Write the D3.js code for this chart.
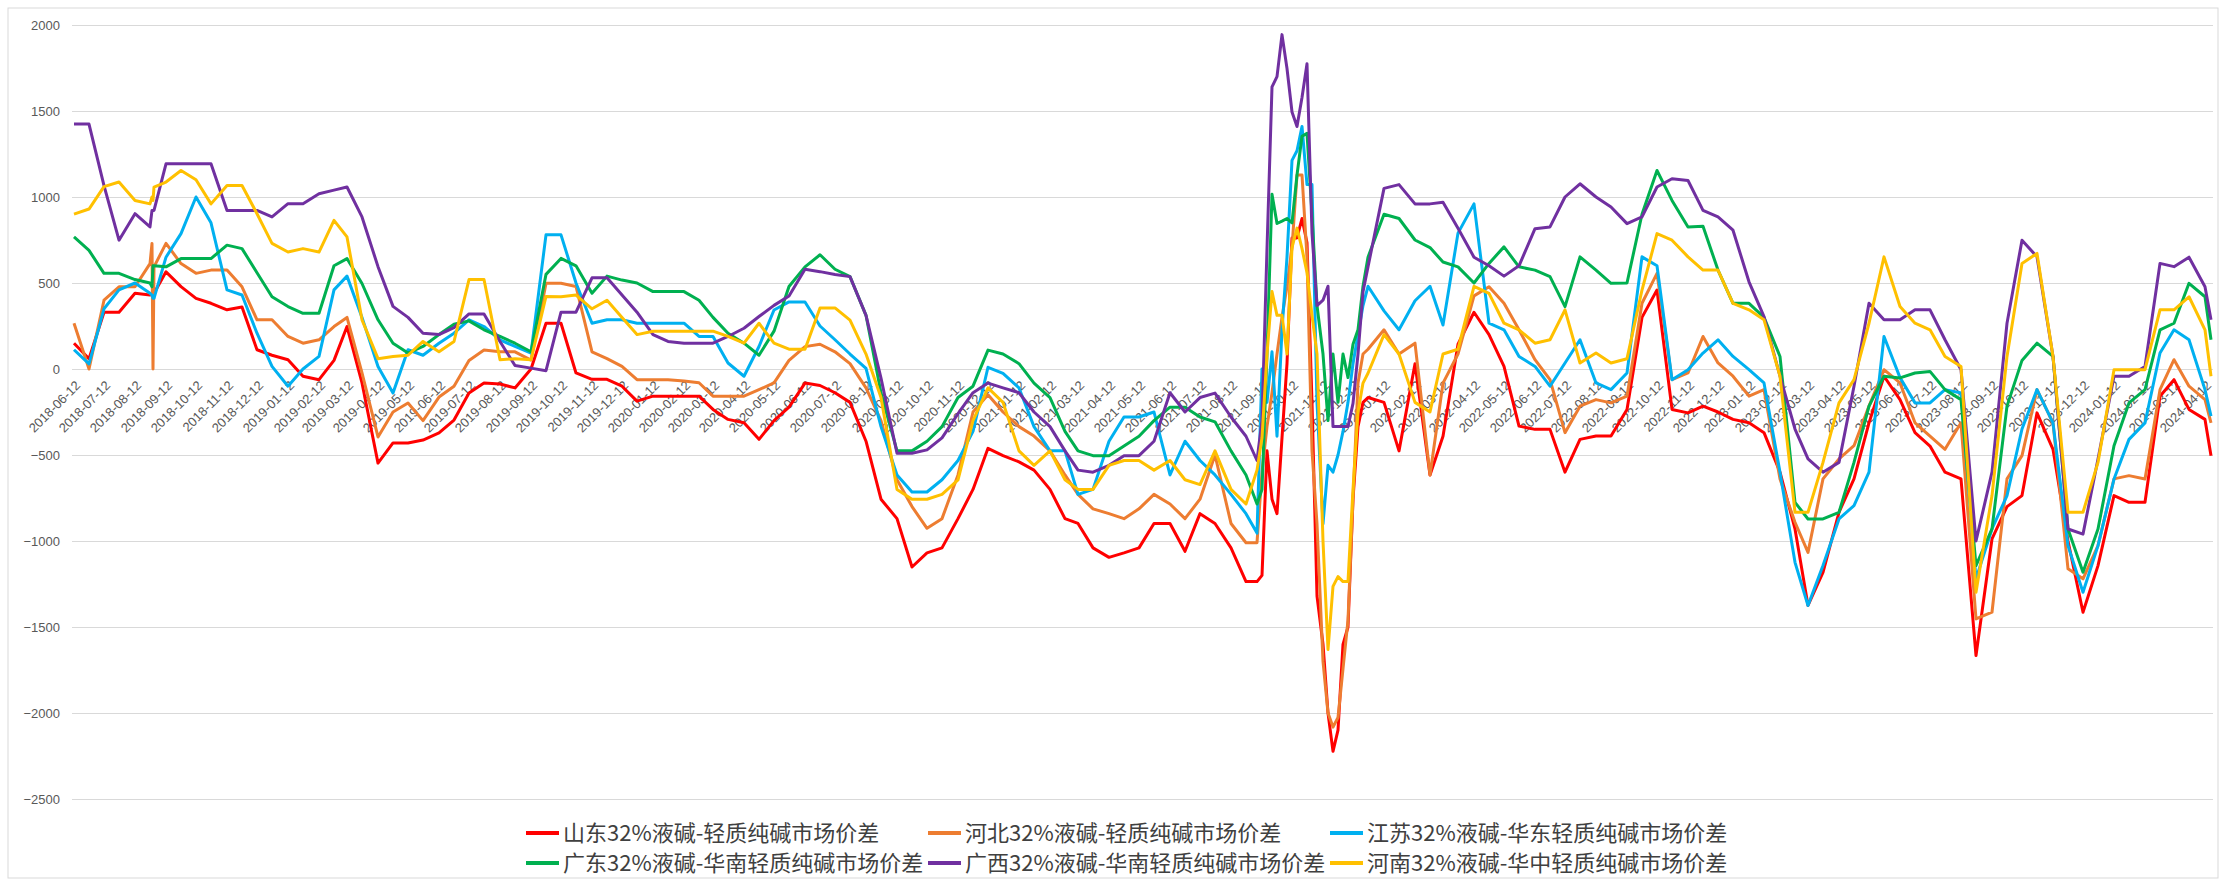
<!DOCTYPE html>
<html>
<head>
<meta charset="utf-8">
<script src="https://cdn.jsdelivr.net/npm/d3@7"></script>
<style>
  body { margin: 0; background: #fff; }
  svg text { font-family: "Liberation Sans", Arial, sans-serif; }
</style>
</head>
<body>
<div id="chart"></div>
<script>
// sample dates (12th and 27th of each month, denser around the 2021 autumn swings)
const dates = [
  "2018-06-12","2018-06-27","2018-07-12","2018-07-27","2018-08-12","2018-08-27","2018-08-29","2018-08-30","2018-08-31",
  "2018-09-12","2018-09-27","2018-10-12","2018-10-27","2018-11-12","2018-11-27","2018-12-12","2018-12-27",
  "2019-01-12","2019-01-27","2019-02-12","2019-02-27","2019-03-12","2019-03-27","2019-04-12","2019-04-27",
  "2019-05-12","2019-05-27","2019-06-12","2019-06-27","2019-07-12","2019-07-27","2019-08-12","2019-08-27",
  "2019-09-12","2019-09-27","2019-10-12","2019-10-27","2019-11-12","2019-11-27","2019-12-12","2019-12-27",
  "2020-01-12","2020-01-27","2020-02-12","2020-02-27","2020-03-12","2020-03-27","2020-04-12","2020-04-27",
  "2020-05-12","2020-05-27","2020-06-12","2020-06-27","2020-07-12","2020-07-27","2020-08-12","2020-08-27",
  "2020-09-12","2020-09-27","2020-10-12","2020-10-27","2020-11-12","2020-11-27","2020-12-12","2020-12-27",
  "2021-01-12","2021-01-27","2021-02-12","2021-02-27","2021-03-12","2021-03-27","2021-04-12","2021-04-27",
  "2021-05-12","2021-05-27","2021-06-12","2021-06-27","2021-07-12","2021-07-27","2021-08-12","2021-08-27",
  "2021-09-07","2021-09-12","2021-09-17","2021-09-22","2021-09-27","2021-10-02","2021-10-07","2021-10-12",
  "2021-10-17","2021-10-22","2021-10-27","2021-11-01","2021-11-06","2021-11-12","2021-11-17","2021-11-22",
  "2021-11-27","2021-12-02","2021-12-07","2021-12-12","2021-12-17","2021-12-22","2021-12-27",
  "2022-01-12","2022-01-27","2022-02-12","2022-02-27","2022-03-12","2022-03-27","2022-04-12","2022-04-27",
  "2022-05-12","2022-05-27","2022-06-12","2022-06-27","2022-07-12","2022-07-27","2022-08-12","2022-08-27",
  "2022-09-12","2022-09-27","2022-10-12","2022-10-27","2022-11-12","2022-11-27","2022-12-12","2022-12-27",
  "2023-01-12","2023-01-27","2023-02-12","2023-02-27","2023-03-12","2023-03-27","2023-04-12","2023-04-27",
  "2023-05-12","2023-05-27","2023-06-12","2023-06-27","2023-07-12","2023-07-27","2023-08-12","2023-08-27",
  "2023-09-12","2023-09-27","2023-10-12","2023-10-27","2023-11-12","2023-11-27","2023-12-12","2023-12-27",
  "2024-01-12","2024-01-27","2024-02-12","2024-02-27","2024-03-12","2024-03-27","2024-04-12","2024-04-18"
];

const shandong = [
  150,60,330,330,440,430,440,440,440,
  565,479,411,382,344,360,112,80,
  54,-42,-62,50,247,-81,-547,-430,-430,-413,-372,-297,-140,-81,-87,-110,0,266,266,-23,-60,-60,-100,-187,
  -158,-158,-158,-158,-235,-293,-313,-409,-300,
  -222,-82,-96,-138,-194,-420,-757,-870,-1151,-1069,-1040,-870,-700,-461,-504,
  -540,-588,-700,-870,-898,-1040,-1095,-1069,-1040,-898,-898,-1060,-841,-898,-1040,-1236,
  -1236,-1200,-476,-757,-841,-400,31,762,762,875,734,-194,-1320,-1600,-2000,-2223,-2100,-1601,-1500,-757,-335,-194,-166,
  -194,-476,31,-616,-391,144,330,200,15,-332,-351,-351,-600,-409,-390,-390,-235,300,459,-235,-255,-216,-250,-293,
  -313,-370,-600,-930,-1375,-1182,-833,-639,-313,-42,-178,-370,-448,-600,-639,-1666,-988,-800,-736,-255,-467,-1000,-1414,-1143,
  -736,-775,-775,-158,-62,-235,-293,-505
];
const hebei = [
  266,0,400,478,478,613,730,0,594,
  730,613,556,575,575,478,286,286,
  189,150,170,247,300,-23,-395,-250,-198,-300,-163,-100,50,110,100,100,52,498,498,480,100,60,15,-62,
  -62,-62,-70,-80,-158,-158,-158,-120,-81,
  50,130,144,100,31,-110,-300,-644,-800,-926,-870,-616,-250,-150,-250,
  -335,-390,-476,-616,-729,-813,-841,-870,-813,-729,-785,-870,-757,-500,-898,-1010,
  -1010,-600,-335,-138,87,300,481,706,1128,1128,650,-476,-900,-1700,-2000,-2082,-2026,-1744,-1460,-757,-82,87,115,
  228,87,150,-616,-82,87,425,478,382,228,54,-62,-370,-216,-178,-197,-158,382,556,-62,-23,189,35,-42,
  -158,-120,-639,-891,-1066,-639,-523,-446,-216,-4,-81,-313,-390,-467,-313,-1453,-1414,-639,-504,-120,-313,-1162,-1220,-1027,
  -639,-620,-639,-120,54,-100,-178,-313
];
const jiangsu = [
  112,30,350,460,500,440,430,411,411,
  650,787,1000,850,460,430,208,15,
  -100,0,73,460,540,300,15,-139,112,80,150,208,286,247,170,131,93,780,780,500,266,286,286,266,
  266,266,266,189,189,35,-42,131,343,
  390,390,250,170,87,3,-335,-616,-715,-715,-644,-532,-363,10,-25,
  -110,-335,-476,-476,-729,-700,-420,-279,-279,-250,-616,-420,-532,-616,-729,-841,
  -954,0,-194,100,-391,228,650,1213,1269,1410,1072,1072,-194,-900,-560,-600,-500,-363,-194,31,200,369,481,
  338,228,397,481,256,790,960,266,228,73,15,-100,35,170,-81,-120,-23,652,600,-62,-4,93,170,73,
  -4,-81,-600,-1124,-1375,-1143,-872,-794,-600,189,-50,-197,-197,-120,-139,-1220,-930,-736,-349,-120,-313,-1027,-1298,-1027,
  -640,-409,-313,93,228,170,-120,-274
];
const guangdong = [
  768,690,556,556,520,500,478,600,600,
  594,642,642,642,720,700,560,420,
  363,324,324,600,642,497,286,150,93,131,200,260,280,228,189,150,100,550,643,600,440,540,517,500,
  450,450,450,400,300,208,150,80,220,
  480,594,664,580,537,312,-138,-476,-476,-420,-335,-166,-100,110,87,
  31,-82,-166,-363,-476,-504,-504,-447,-391,-300,-222,-222,-279,-307,-476,-616,
  -785,-700,87,1016,846,860,875,850,1128,1353,1370,900,369,87,-300,87,-194,87,-50,144,228,481,650,
  900,875,750,706,622,594,500,614,710,594,575,537,363,652,575,498,500,900,1154,980,826,830,575,382,
  382,300,73,-775,-872,-872,-833,-543,-216,-42,-52,-23,-14,-120,-178,-1143,-930,-216,50,150,73,-930,-1182,-930,
  -446,-197,-120,228,266,498,420,170
];
const guangxi = [
  1424,1424,1066,749,903,826,922,922,922,
  1193,1193,1193,1193,922,922,922,884,
  961,961,1019,1040,1058,884,595,364,300,208,200,240,320,320,160,20,5,-10,330,330,530,530,430,330,
  200,160,150,150,150,189,237,305,370,
  425,580,566,550,537,312,-53,-490,-490,-470,-400,-260,-138,-82,-110,
  -138,-250,-335,-476,-588,-600,-560,-504,-504,-420,-138,-250,-166,-140,-279,-391,
  -532,-300,700,1640,1700,1944,1747,1494,1410,1578,1775,791,369,400,481,-335,-335,-335,-335,-200,87,450,594,
  1050,1072,960,960,970,819,650,600,540,600,816,826,1000,1077,1000,942,845,884,1058,1106,1096,922,884,807,
  507,305,-42,-349,-523,-600,-543,-100,382,286,286,344,344,170,-4,-1000,-600,266,749,652,73,-930,-960,-523,
  -42,-42,15,614,595,650,478,286
];
const henan = [
  900,930,1060,1087,980,960,1000,980,1058,
  1087,1154,1100,960,1067,1067,903,730,
  680,700,680,864,768,286,60,73,80,160,100,160,520,520,54,60,54,422,420,430,350,400,300,200,
  220,220,220,220,220,190,150,266,150,
  115,115,355,355,284,87,-166,-700,-757,-757,-729,-644,-300,-110,-194,
  -476,-560,-476,-644,-700,-700,-560,-532,-532,-588,-532,-644,-672,-476,-700,-785,
  -588,-400,87,450,312,312,87,706,819,700,560,312,87,-1000,-1631,-1264,-1207,-1236,-1236,-700,-250,-82,-25,
  200,87,-194,-250,87,115,481,440,266,228,150,170,344,35,93,35,60,459,787,749,652,575,575,382,
  344,286,-42,-833,-833,-543,-197,-62,266,652,363,266,228,73,15,-1298,-736,73,614,672,73,-833,-833,-543,
  -4,-4,-4,344,344,420,228,-42
];

const seriesNames = [
  "山东32%液碱-轻质纯碱市场价差",
  "河北32%液碱-轻质纯碱市场价差",
  "江苏32%液碱-华东轻质纯碱市场价差",
  "广东32%液碱-华南轻质纯碱市场价差",
  "广西32%液碱-华南轻质纯碱市场价差",
  "河南32%液碱-华中轻质纯碱市场价差"
];
const seriesColors = ["#FF0000", "#ED7D31", "#00B0F0", "#00B050", "#7030A0", "#FFC000"];
const yTicks = [2000, 1500, 1000, 500, 0, -500, -1000, -1500, -2000, -2500];
const firstTick = "2018-06-12";
const lastTick = "2024-04-12";

const parse = d3.timeParse("%Y-%m-%d");
const allSeries = [shandong, hebei, jiangsu, guangdong, guangxi, henan];

const W = 2226, H = 880;
const plot = { left: 72, right: 2213, top: 25, bottom: 799 };

const svg = d3.select("#chart").append("svg")
    .attr("width", W)
    .attr("height", H);

svg.append("rect")
    .attr("x", 8).attr("y", 8)
    .attr("width", W - 16).attr("height", H - 10)
    .attr("fill", "#fff")
    .attr("stroke", "#d9d9d9");

const x = d3.scaleTime()
    .domain([parse("2018-06-10"), parse("2024-04-20")])
    .range([plot.left, plot.right]);

const y = d3.scaleLinear()
    .domain([-2500, 2000])
    .range([plot.bottom, plot.top]);

// gridlines + y labels
const yAxis = svg.append("g")
    .attr("transform", `translate(${plot.left},0)`)
    .call(d3.axisLeft(y)
        .tickValues(yTicks)
        .tickFormat(d3.format("d"))
        .tickSize(-(plot.right - plot.left))
        .tickPadding(12));
yAxis.select(".domain").remove();
yAxis.selectAll(".tick line").attr("stroke", "#d9d9d9").attr("stroke-width", 1.2);
yAxis.selectAll(".tick text")
    .attr("fill", "#595959")
    .attr("font-size", "13px")
    .style("font-family", "'Liberation Sans', Arial, sans-serif");

// monthly date labels sitting just under the zero line
const months = d3.timeMonth.range(d3.timeMonth.floor(parse(firstTick)), d3.timeDay.offset(parse(lastTick), 1))
    .map(d => new Date(d.getFullYear(), d.getMonth(), 12));
const fmt = d3.timeFormat("%Y-%m-%d");
svg.append("g").selectAll("text")
    .data(months)
    .join("text")
    .attr("transform", d => `translate(${x(d) + 4},${y(0) + 14}) rotate(-45)`)
    .attr("text-anchor", "end")
    .attr("dy", "0.35em")
    .attr("fill", "#595959")
    .attr("font-size", "13px")
    .text(d => fmt(d));

// lines
const line = d3.line()
    .x((d, i) => x(parse(dates[i])))
    .y(d => y(d));

svg.append("g").selectAll("path")
    .data(allSeries)
    .join("path")
    .attr("fill", "none")
    .attr("stroke", (d, i) => seriesColors[i])
    .attr("stroke-width", 3)
    .attr("stroke-linejoin", "round")
    .attr("d", line);

// legend
const legendCols = [526, 928, 1330];
const legendRows = [833, 863];
const legend = svg.append("g").selectAll("g")
    .data(seriesNames)
    .join("g")
    .attr("transform", (d, i) => `translate(${legendCols[i % 3]},${legendRows[Math.floor(i / 3)]})`);

legend.append("line")
    .attr("x1", 0).attr("x2", 33)
    .attr("stroke", (d, i) => seriesColors[i])
    .attr("stroke-width", 4);

legend.append("text")
    .attr("x", 37)
    .attr("dy", "0.36em")
    .attr("fill", "#404040")
    .attr("font-size", "22px")
    .style("font-family", "'Noto Sans CJK SC', sans-serif")
    .text(d => d);
</script>
</body>
</html>
